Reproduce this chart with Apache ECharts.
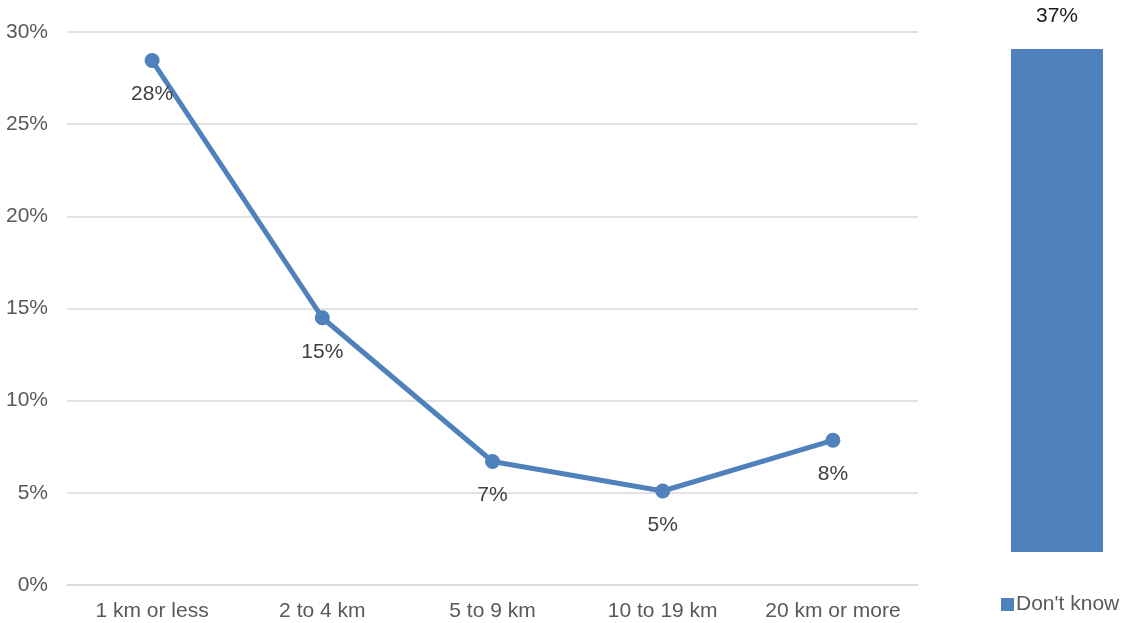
<!DOCTYPE html>
<html><head><meta charset="utf-8">
<script src="https://cdn.jsdelivr.net/npm/echarts@6/dist/echarts.min.js"></script>
<style>html,body{margin:0;padding:0;background:#fff}#c{width:1124px;height:623px}</style>
</head><body><div id="c"></div>
<script>
var categories = ['1 km or less', '2 to 4 km', '5 to 9 km', '10 to 19 km', '20 km or more'];
var distanceValues = [28.45, 14.5, 6.7, 5.1, 7.85];
var dontKnowCategory = ["Don't know"];
var dontKnowValues = [37];
var yTicks = [0, 5, 10, 15, 20, 25, 30];

var font = 'Liberation Sans, Arial, sans-serif';
var blue = '#4F81BD';
var fs = 21;
var chart = echarts.init(document.getElementById('c'), null, {renderer: 'canvas'});
chart.setOption({
  animation: false,
  textStyle: {fontFamily: font},
  grid: [
    {left: 67, top: 32, width: 851, height: 553, containLabel: false},
    {left: 1011, top: 49, width: 92, height: 503, containLabel: false}
  ],
  legend: {
    data: [dontKnowCategory[0]],
    left: 996, top: 589,
    itemWidth: 13, itemHeight: 13, itemGap: 4,
    icon: 'rect',
    textStyle: {fontSize: fs, color: '#595959', fontFamily: font, padding: [0, 0, 0, -3]}
  },
  xAxis: [
    {type: 'category', gridIndex: 0, data: categories, boundaryGap: true,
     axisLine: {show: true, lineStyle: {color: '#d9d9d9', width: 1.5}},
     axisTick: {show: false},
     axisLabel: {interval: 0, fontSize: fs, color: '#595959', margin: 16, fontFamily: font}},
    {type: 'category', gridIndex: 1, data: dontKnowCategory, show: false}
  ],
  yAxis: [
    {type: 'value', gridIndex: 0, min: yTicks[0], max: yTicks[yTicks.length - 1], interval: 5,
     axisLine: {show: false}, axisTick: {show: false},
     splitLine: {lineStyle: {color: '#d9d9d9', width: 1.5}},
     axisLabel: {fontSize: fs, color: '#595959', margin: 19, fontFamily: font,
       formatter: function (v) { return v + '%'; }}},
    {type: 'value', gridIndex: 1, min: 0, max: dontKnowValues[0], show: false}
  ],
  series: [
    {type: 'line', xAxisIndex: 0, yAxisIndex: 0, data: distanceValues,
     symbol: 'circle', symbolSize: 15,
     lineStyle: {color: blue, width: 5}, itemStyle: {color: blue},
     label: {show: true, position: 'bottom', distance: 16, fontSize: fs, color: '#404040', fontFamily: font,
       formatter: function (p) { return Math.round(p.value) + '%'; }}},
    {type: 'bar', name: dontKnowCategory[0], xAxisIndex: 1, yAxisIndex: 1, data: dontKnowValues,
     barWidth: '100%', itemStyle: {color: blue},
     label: {show: true, position: 'top', distance: 22, fontSize: fs, color: '#1a1a1a', fontFamily: font,
       formatter: function (p) { return p.value + '%'; }}}
  ]
});
</script></body></html>
